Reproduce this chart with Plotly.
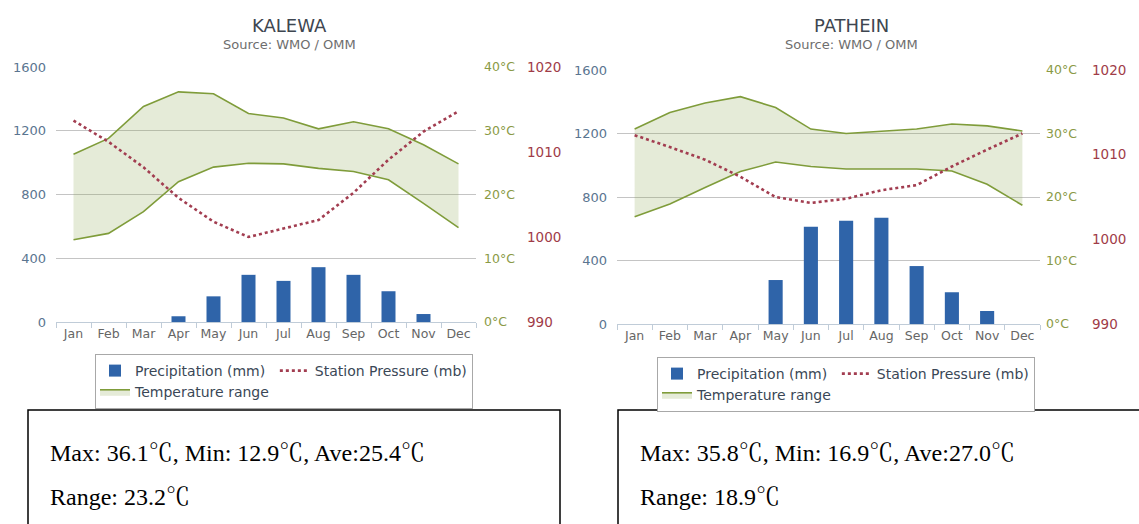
import plotly.graph_objects as go

W, H = 1139, 524

months = ['Jan', 'Feb', 'Mar', 'Apr', 'May', 'Jun', 'Jul', 'Aug', 'Sep', 'Oct', 'Nov', 'Dec']

# KALEWA
kal_precip = [0, 0, 0, 36, 161, 296, 258, 344, 296, 193, 50, 0]
kal_tmax = [26.3, 28.8, 33.8, 36.1, 35.8, 32.7, 32.0, 30.3, 31.4, 30.3, 27.8, 24.8]
kal_tmin = [12.9, 13.9, 17.3, 22.0, 24.3, 24.9, 24.8, 24.1, 23.6, 22.3, 18.6, 14.8]
kal_press = [1013.7, 1011.2, 1008.2, 1004.6, 1001.8, 1000.0, 1001.0, 1002.0, 1005.2, 1009.1, 1012.4, 1014.8]
kal_text = ['Max: 36.1℃, Min: 12.9℃, Ave:25.4℃', 'Range: 23.2℃']

# PATHEIN
pat_precip = [0, 0, 0, 0, 277, 613, 651, 670, 365, 200, 82, 0]
pat_tmax = [30.7, 33.3, 34.8, 35.8, 34.1, 30.7, 30.0, 30.3, 30.7, 31.5, 31.2, 30.4]
pat_tmin = [16.9, 18.9, 21.5, 24.0, 25.5, 24.8, 24.4, 24.4, 24.4, 24.1, 22.0, 18.7]
pat_press = [1012.3, 1010.9, 1009.4, 1007.4, 1005.0, 1004.3, 1004.8, 1005.8, 1006.4, 1008.6, 1010.6, 1012.5]
pat_text = ['Max: 35.8℃, Min: 16.9℃, Ave:27.0℃', 'Range: 18.9℃']

BAR = '#2F64A9'
GREEN = '#7F9C3A'
FILL = 'rgba(137,165,78,0.22)'
RED = '#A23D50'
FONT = 'DejaVu Sans, sans-serif'
SERIF = 'Liberation Serif, Noto Serif CJK SC, Noto Sans CJK SC, serif'


def px(x):
    return x / W


def py(y):
    return (H - y) / H


fig = go.Figure()

charts = [
    dict(name='KALEWA', precip=kal_precip, tmax=kal_tmax, tmin=kal_tmin, press=kal_press, text=kal_text,
         x0=56, x1=476, y0=67, y1=322, tpos=483, ppos=526, cx=289, lx=95, ly=354, bx0=28, bx1=560, tx=48,
         legend='legend'),
    dict(name='PATHEIN', precip=pat_precip, tmax=pat_tmax, tmin=pat_tmin, press=pat_press, text=pat_text,
         x0=617, x1=1040, y0=70, y1=324, tpos=1045, ppos=1091, cx=851, lx=657, ly=357, bx0=618, bx1=1145, tx=638,
         legend='legend2'),
]

layout = dict(width=W, height=H, margin=dict(l=0, r=0, t=0, b=0, autoexpand=False), paper_bgcolor='white',
              plot_bgcolor='white', barmode='overlay', showlegend=True, annotations=[], shapes=[])

for i, c in enumerate(charts):
    xa = 'x' if i == 0 else 'x2'
    ya, yt, yp = ['y', 'y2', 'y3'] if i == 0 else ['y4', 'y5', 'y6']
    fig.add_trace(go.Bar(x=months, y=c['precip'], name='Precipitation (mm)', marker_color=BAR,
                         marker_line_width=0, width=0.4, xaxis=xa, yaxis=ya, legend=c['legend'],
                         legendgroup='a' + str(i)))
    fig.add_trace(go.Scatter(x=months, y=c['tmin'], mode='lines', line=dict(color=GREEN, width=1.6),
                             showlegend=False, xaxis=xa, yaxis=yt, legend=c['legend'], legendgroup='a' + str(i)))
    fig.add_trace(go.Scatter(x=months, y=c['tmax'], mode='lines', line=dict(color=GREEN, width=1.6),
                             fill='tonexty', fillcolor=FILL, name='Temperature range', xaxis=xa, yaxis=yt,
                             legend=c['legend'], legendgroup='a' + str(i)))
    fig.add_trace(go.Scatter(x=months, y=c['press'], mode='lines', line=dict(color=RED, width=2.6, dash='dot'),
                             name='Station Pressure (mb)', xaxis=xa, yaxis=yp, legend=c['legend'],
                             legendgroup='b' + str(i)))

    xk = 'xaxis' if i == 0 else 'xaxis2'
    k1, k2, k3 = ['yaxis', 'yaxis2', 'yaxis3'] if i == 0 else ['yaxis4', 'yaxis5', 'yaxis6']
    dom_y = [py(c['y1']), py(c['y0'])]
    layout[xk] = dict(domain=[px(c['x0']), px(c['x1'])], anchor=ya, type='category', categoryorder='array',
                      categoryarray=months, showline=True, linecolor='#C0CCD8', linewidth=1, ticks='outside',
                      tickson='boundaries', ticklen=5, tickcolor='#C0CCD8', showgrid=False, tickangle=0,
                      tickfont=dict(family=FONT, size=12.5, color='#666666'), fixedrange=True)
    layout[k1] = dict(domain=dom_y, anchor=xa, range=[0, 1600], dtick=400, showgrid=True, gridcolor='#C4C4C4',
                      gridwidth=1, zeroline=False, ticks='', ticklabelstandoff=9,
                      tickfont=dict(family=FONT, size=13, color='#5A7590'))
    layout[k2] = dict(domain=dom_y, overlaying=ya, side='right', anchor='free', position=px(c['tpos']),
                      range=[0, 40], dtick=10, ticksuffix='°C', showgrid=False, zeroline=False, ticks='',
                      tickfont=dict(family=FONT, size=12.5, color='#8A9A45'))
    layout[k3] = dict(domain=dom_y, overlaying=ya, side='right', anchor='free', position=px(c['ppos']),
                      range=[990, 1020], dtick=10, showgrid=False, zeroline=False, ticks='',
                      tickfont=dict(family=FONT, size=13.5, color='#A03C48'))

    layout[c['legend']] = dict(x=px(c['lx']), y=py(c['ly']), xanchor='left', yanchor='top', orientation='h',
                               traceorder='grouped', bgcolor='white', bordercolor='#A8A8A8', borderwidth=1,
                               font=dict(family=FONT, size=14, color='#3A4756'), itemwidth=30)

    layout['annotations'] += [
        dict(text=c['name'], x=px(c['cx']), y=py(25), xref='paper', yref='paper', showarrow=False,
             xanchor='center', yanchor='middle', font=dict(family=FONT, size=18, color='#3E4650')),
        dict(text='Source: WMO / OMM', x=px(c['cx']), y=py(44), xref='paper', yref='paper', showarrow=False,
             xanchor='center', yanchor='middle', font=dict(family=FONT, size=13, color='#6E6E6E')),
        dict(text=c['text'][0], x=px(c['tx']), y=py(453), xref='paper', yref='paper', showarrow=False,
             xanchor='left', yanchor='middle', font=dict(family=SERIF, size=24, color='black')),
        dict(text=c['text'][1], x=px(c['tx']), y=py(497), xref='paper', yref='paper', showarrow=False,
             xanchor='left', yanchor='middle', font=dict(family=SERIF, size=24, color='black')),
    ]
    layout['shapes'].append(dict(type='rect', xref='paper', yref='paper', x0=px(c['bx0']), x1=px(c['bx1']),
                                 y0=py(600), y1=py(410), line=dict(color='black', width=1.5)))

fig.update_layout(**layout)
fig.write_html("out.html", config={'displayModeBar': False},
               post_script="document.body.style.margin = '0';")
